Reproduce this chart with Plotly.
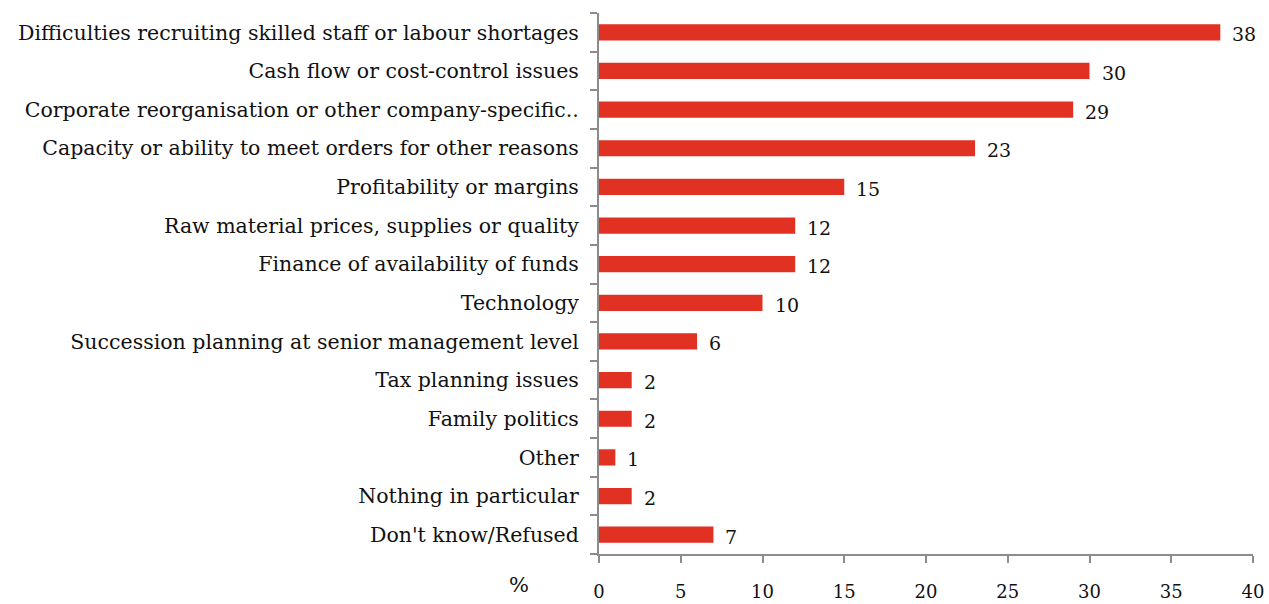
import plotly.graph_objects as go

categories = [
    "Difficulties recruiting skilled staff or labour shortages",
    "Cash flow or cost-control issues",
    "Corporate reorganisation or other company-specific..",
    "Capacity or ability to meet orders for other reasons",
    "Profitability or margins",
    "Raw material prices, supplies or quality",
    "Finance of availability of funds",
    "Technology",
    "Succession planning at senior management level",
    "Tax planning issues",
    "Family politics",
    "Other",
    "Nothing in particular",
    "Don't know/Refused",
]
values = [38, 30, 29, 23, 15, 12, 12, 10, 6, 2, 2, 1, 2, 7]
x_ticks = [0, 5, 10, 15, 20, 25, 30, 35, 40]

FONT = "DejaVu Serif"
BAR = "#E03122"
AXIS = "#8c8c8c"
INK = "#111111"
L, R, T, B = 599, 16, 13, 50
W, H = 1269, 604

fig = go.Figure(
    go.Bar(
        x=values,
        y=categories,
        orientation="h",
        marker=dict(color=BAR, line=dict(width=0)),
        width=0.42,
        hoverinfo="x+y",
    )
)

# value labels just right of each bar end
value_labels = [
    dict(
        x=v, y=c, xref="x", yref="y",
        text=str(v), showarrow=False,
        xanchor="left", yanchor="middle", xshift=10, yshift=-2,
        font=dict(family=FONT, size=19, color=INK),
    )
    for c, v in zip(categories, values)
]

pct_label = dict(
    text="%",
    x=(519 - L) / (W - L - R),
    y=(H - B - 585) / (H - T - B),
    xref="paper", yref="paper",
    xanchor="center", yanchor="middle",
    showarrow=False,
    font=dict(family=FONT, size=21, color=INK),
)

fig.update_layout(
    width=W,
    height=H,
    margin=dict(l=L, r=R, t=T, b=B, autoexpand=False),
    paper_bgcolor="white",
    plot_bgcolor="white",
    showlegend=False,
    font=dict(family=FONT, color=INK),
    annotations=value_labels + [pct_label],
)

fig.update_xaxes(
    range=[0, 40],
    tickvals=x_ticks,
    ticktext=[str(t) for t in x_ticks],
    showgrid=False,
    zeroline=False,
    showline=True,
    linecolor=AXIS,
    linewidth=2,
    ticks="outside",
    ticklen=7,
    tickwidth=1.5,
    tickcolor=AXIS,
    tickfont=dict(family=FONT, size=18, color=INK),
    ticklabelstandoff=13,
    automargin=False,
)
fig.update_yaxes(
    categoryorder="array",
    categoryarray=categories[::-1],
    autorange=False,
    range=[-0.5, len(categories) - 0.5],
    showgrid=False,
    zeroline=False,
    showline=True,
    linecolor=AXIS,
    linewidth=2,
    ticks="outside",
    tickson="boundaries",
    ticklen=7,
    tickwidth=1.5,
    tickcolor=AXIS,
    tickfont=dict(family=FONT, size=20.5, color=INK),
    ticklabelstandoff=14,
    automargin=False,
)

fig.write_html("out.html")
